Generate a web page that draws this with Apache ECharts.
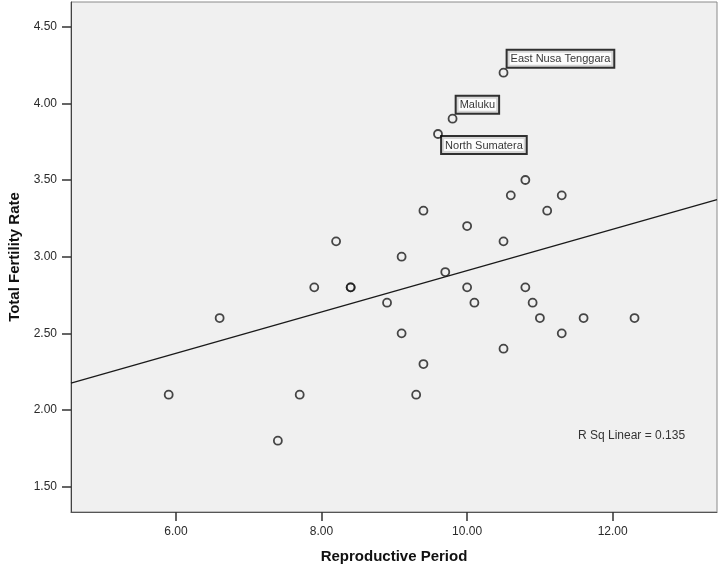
<!DOCTYPE html>
<html>
<head>
<meta charset="utf-8">
<script src="https://cdn.jsdelivr.net/npm/echarts@6/dist/echarts.min.js"></script>
<style>
html,body{margin:0;padding:0;background:#fff;}
#chart{width:718px;height:569px;}
</style>
</head>
<body>
<div id="chart"></div>
<script>
// Reproductive Period (x) vs Total Fertility Rate (y)
var reproductivePeriod = [5.9, 6.6, 7.4, 7.7, 7.9, 8.2, 8.4, 8.4, 8.9, 9.1, 9.1, 9.3, 9.4, 9.4, 9.6, 9.7, 9.8, 10.0, 10.0, 10.1, 10.5, 10.5, 10.5, 10.6, 10.8, 10.8, 10.9, 11.0, 11.1, 11.3, 11.3, 11.6, 12.3];
var fertilityRate      = [2.1, 2.6, 1.8, 2.1, 2.8, 3.1, 2.8, 2.8, 2.7, 3.0, 2.5, 2.1, 3.3, 2.3, 3.8, 2.9, 3.9, 3.2, 2.8, 2.7, 4.2, 3.1, 2.4, 3.4, 3.5, 2.8, 2.7, 2.6, 3.3, 3.4, 2.5, 2.6, 2.6];
var pointNames         = ['', '', '', '', '', '', '', '', '', '', '', '', '', '', 'North Sumatera', '', 'Maluku', '', '', '', 'East Nusa Tenggara', '', '', '', '', '', '', '', '', '', '', '', ''];
var xTicks = [6, 8, 10, 12];
var yTicks = [1.5, 2.0, 2.5, 3.0, 3.5, 4.0, 4.5];
var xRange = [4.558, 13.433];
var yRange = [1.335, 4.661];
var rSqText = 'R Sq Linear = 0.135';

// least squares fit
var n = reproductivePeriod.length, mx = 0, my = 0;
for (var i = 0; i < n; i++) { mx += reproductivePeriod[i]; my += fertilityRate[i]; }
mx /= n; my /= n;
var sxy = 0, sxx = 0;
for (var i = 0; i < n; i++) { sxy += (reproductivePeriod[i]-mx)*(fertilityRate[i]-my); sxx += (reproductivePeriod[i]-mx)*(reproductivePeriod[i]-mx); }
var slope = sxy / sxx, intercept = my - slope * mx;
var fitLine = [[xRange[0], intercept + slope*xRange[0]], [xRange[1], intercept + slope*xRange[1]]];

var labelPos = {
  'East Nusa Tenggara': [9, -17],
  'Maluku': [9, -17],
  'North Sumatera': [9, 8]
};

var scatterData = reproductivePeriod.map(function (x, i) {
  var item = { value: [x, fertilityRate[i]] };
  var nm = pointNames[i];
  if (nm) {
    item.label = {
      show: true,
      formatter: nm,
      position: labelPos[nm],
      align: 'left',
      verticalAlign: 'top',
      fontFamily: 'Liberation Sans',
      fontSize: 11,
      color: '#000',
      backgroundColor: '#fff',
      borderColor: '#000',
      borderWidth: 2,
      padding: [2, 3, 1, 3],
      lineHeight: 13
    };
  }
  return item;
});

var chart = echarts.init(document.getElementById('chart'), null, { renderer: 'canvas' });
chart.setOption({
  animation: false,
  backgroundColor: '#fff',
  textStyle: { fontFamily: 'Liberation Sans' },
  grid: {
    left: 71, top: 2, right: 1, bottom: 57,
    containLabel: false,
    outerBoundsMode: 'none',
    show: true,
    backgroundColor: '#f0f0f0',
    borderColor: '#8a8a8a',
    borderWidth: 1
  },
  xAxis: {
    type: 'value',
    min: xRange[0], max: xRange[1],
    name: 'Reproductive Period',
    nameLocation: 'middle',
    nameGap: 37,
    nameTextStyle: { fontFamily: 'Liberation Sans', fontSize: 15, fontWeight: 'bold', color: '#111' },
    axisLine: { show: true, onZero: false, lineStyle: { color: '#555', width: 1 } },
    axisTick: { show: true, length: 9, customValues: xTicks, lineStyle: { color: '#333', width: 1.5 } },
    axisLabel: { customValues: xTicks, margin: 14, fontSize: 12, color: '#2a2a2a', formatter: function (v) { return v.toFixed(2); } },
    splitLine: { show: false }
  },
  yAxis: {
    type: 'value',
    min: yRange[0], max: yRange[1],
    name: 'Total Fertility Rate',
    nameLocation: 'middle',
    nameGap: 47,
    nameRotate: 90,
    nameTextStyle: { fontFamily: 'Liberation Sans', fontSize: 15, fontWeight: 'bold', color: '#111' },
    axisLine: { show: true, onZero: false, lineStyle: { color: '#444', width: 1 } },
    axisTick: { show: true, length: 9, customValues: yTicks, lineStyle: { color: '#333', width: 1.5 } },
    axisLabel: { customValues: yTicks, margin: 14, fontSize: 12, color: '#2a2a2a', formatter: function (v) { return v.toFixed(2); } },
    splitLine: { show: false }
  },
  series: [
    {
      type: 'line',
      data: fitLine,
      showSymbol: false,
      symbol: 'none',
      lineStyle: { color: '#1a1a1a', width: 1.3 },
      silent: true,
      z: 1
    },
    {
      type: 'scatter',
      data: scatterData,
      symbol: 'circle',
      symbolSize: 8,
      itemStyle: { color: 'rgba(0,0,0,0)', borderColor: '#1a1a1a', borderWidth: 1.8 },
      z: 3
    }
  ],
  graphic: [
    {
      type: 'text',
      left: 578,
      top: 430,
      style: { text: rSqText, fontFamily: 'Liberation Sans', fontSize: 12, fill: '#333' }
    }
  ]
});
</script>
</body>
</html>
